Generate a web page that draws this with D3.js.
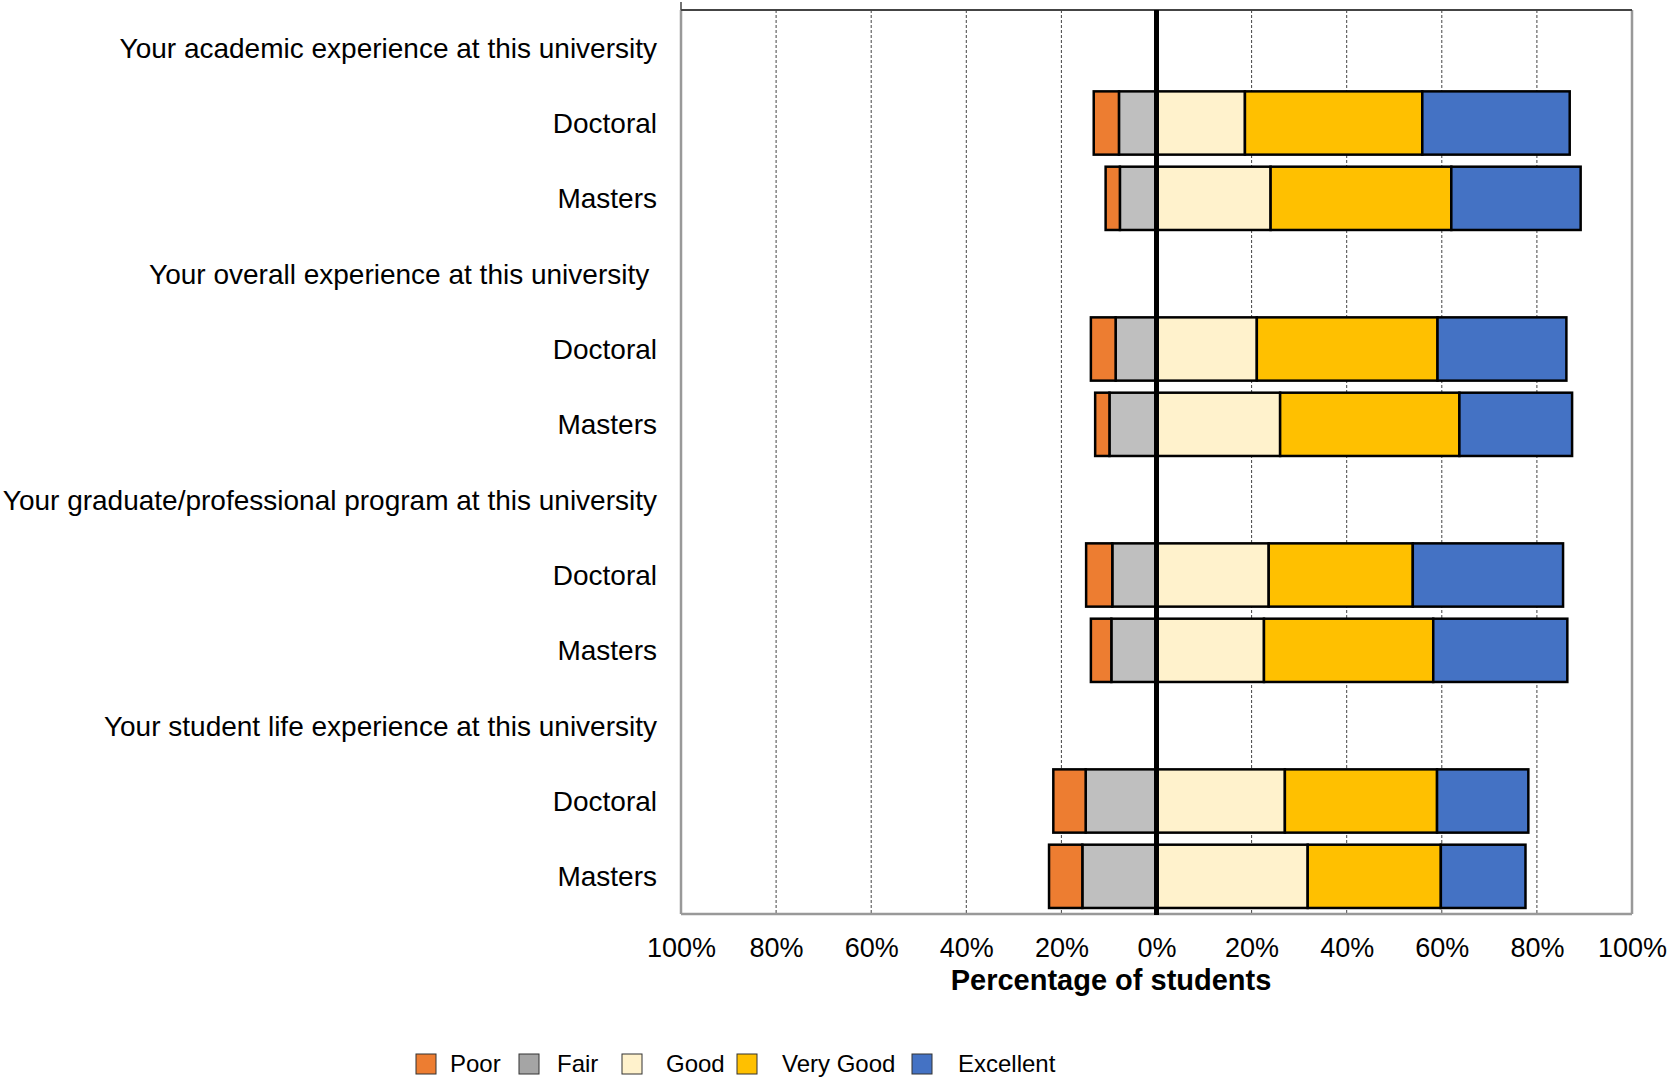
<!DOCTYPE html>
<html>
<head>
<meta charset="utf-8">
<script src="https://cdn.jsdelivr.net/npm/d3@7"></script>
<style>
  html, body { margin: 0; padding: 0; background: #fff; }
  svg { display: block; font-family: "Liberation Sans", Arial, sans-serif; }
</style>
</head>
<body>
<svg id="chart" width="1671" height="1077"></svg>
<script>
// Row labels, top to bottom (section headers carry no bars)
const rowLabels = [
  "Your academic experience at this university", "Doctoral", "Masters",
  "Your overall experience at this university ", "Doctoral", "Masters",
  "Your graduate/professional program at this university", "Doctoral", "Masters",
  "Your student life experience at this university", "Doctoral", "Masters"
];

// Percentage of students per rating, one value per row (null = header row)
const poor      = [null, 5.3, 3.0, null, 5.2, 3.0, null, 5.5, 4.3, null, 6.8, 7.0];
const fair      = [null, 7.9, 7.7, null, 8.6, 9.9, null, 9.3, 9.5, null, 14.9, 15.6];
const good      = [null, 18.6, 24.0, null, 21.1, 26.0, null, 23.6, 22.6, null, 27.0, 31.8];
const veryGood  = [null, 37.3, 38.0, null, 38.0, 37.7, null, 30.3, 35.6, null, 32.0, 28.0];
const excellent = [null, 31.0, 27.2, null, 27.1, 23.7, null, 31.6, 28.2, null, 19.2, 17.8];

const ratingNames = ["Poor", "Fair", "Good", "Very Good", "Excellent"];
const tickValues = [-100, -80, -60, -40, -20, 0, 20, 40, 60, 80, 100];

const colors = {
  "Poor": "#ED7D31", "Fair": "#BFBFBF", "Good": "#FFF2CC",
  "Very Good": "#FFC000", "Excellent": "#4472C4"
};
const legendColors = {
  "Poor": "#ED7D31", "Fair": "#A5A5A5", "Good": "#FFF2CC",
  "Very Good": "#FFC000", "Excellent": "#4472C4"
};

const svg = d3.select("#chart");
const plotLeft = 681, plotRight = 1632, plotTop = 10, plotBottom = 914;

const x = d3.scaleLinear().domain([-100, 100]).range([plotLeft, plotRight]);
const y = d3.scaleBand().domain(d3.range(rowLabels.length)).range([plotTop, plotBottom])
  .paddingInner(0.16).paddingOuter(0.08);

// Diverging segments: negatives stack leftwards from zero, positives rightwards
const segments = [];
rowLabels.forEach((label, i) => {
  if (poor[i] == null) return;
  const f = fair[i], p = poor[i];
  segments.push({ row: i, key: "Fair", x0: -f, x1: 0 });
  segments.push({ row: i, key: "Poor", x0: -f - p, x1: -f });
  let acc = 0;
  [["Good", good[i]], ["Very Good", veryGood[i]], ["Excellent", excellent[i]]].forEach(([k, v]) => {
    segments.push({ row: i, key: k, x0: acc, x1: acc + v });
    acc += v;
  });
});

// Grid lines
svg.append("g")
  .selectAll("line")
  .data(tickValues.filter(d => Math.abs(d) !== 100 && d !== 0))
  .join("line")
  .attr("x1", d => x(d)).attr("x2", d => x(d))
  .attr("y1", plotTop).attr("y2", plotBottom)
  .attr("stroke", "#444").attr("stroke-width", 1)
  .attr("stroke-dasharray", "3,2");

// Plot frame
svg.append("line").attr("x1", plotLeft).attr("x2", plotLeft).attr("y1", plotTop).attr("y2", plotBottom)
  .attr("stroke", "#999").attr("stroke-width", 2.5);
svg.append("line").attr("x1", plotRight).attr("x2", plotRight).attr("y1", plotTop).attr("y2", plotBottom)
  .attr("stroke", "#999").attr("stroke-width", 2.5);
svg.append("line").attr("x1", plotLeft).attr("x2", plotRight).attr("y1", plotBottom).attr("y2", plotBottom)
  .attr("stroke", "#999").attr("stroke-width", 2.5);
svg.append("line").attr("x1", plotLeft).attr("x2", plotRight).attr("y1", plotTop).attr("y2", plotTop)
  .attr("stroke", "#444").attr("stroke-width", 2);
svg.append("line").attr("x1", plotLeft).attr("x2", plotLeft).attr("y1", 2).attr("y2", plotTop)
  .attr("stroke", "#444").attr("stroke-width", 1.5);

// Bars
svg.append("g")
  .selectAll("rect")
  .data(segments)
  .join("rect")
  .attr("x", d => x(d.x0))
  .attr("width", d => x(d.x1) - x(d.x0))
  .attr("y", d => y(d.row))
  .attr("height", y.bandwidth())
  .attr("fill", d => colors[d.key])
  .attr("stroke", "#000")
  .attr("stroke-width", 2.5);

// Zero line
svg.append("line").attr("x1", x(0)).attr("x2", x(0)).attr("y1", plotTop).attr("y2", plotBottom + 1)
  .attr("stroke", "#000").attr("stroke-width", 5);

// Category axis
const yAxis = svg.append("g")
  .attr("transform", `translate(${plotLeft},0)`)
  .call(d3.axisLeft(y).tickSize(0).tickPadding(24).tickFormat(i => rowLabels[i]));
yAxis.select(".domain").remove();
yAxis.selectAll("text")
  .attr("font-size", 28).attr("fill", "#000")
  .attr("dy", "0.36em")
  .style("font-family", "\"Liberation Sans\", Arial, sans-serif")
  .style("white-space", "pre");

// Value axis
const xAxis = svg.append("g")
  .attr("transform", `translate(0,${plotBottom})`)
  .call(d3.axisBottom(x).tickValues(tickValues).tickSize(0).tickPadding(24)
    .tickFormat(d => Math.abs(d) + "%"));
xAxis.select(".domain").remove();
xAxis.selectAll("text")
  .attr("font-size", 27).attr("fill", "#000")
  .style("font-family", "\"Liberation Sans\", Arial, sans-serif");

svg.append("text")
  .attr("x", 1111).attr("y", 990)
  .attr("text-anchor", "middle")
  .attr("font-size", 29).attr("font-weight", "bold")
  .text("Percentage of students");

// Legend
const legendSwatchX = [416, 519, 622, 737, 912];
const legendTextX = [450, 557, 666, 782, 958];
const legend = svg.append("g");
ratingNames.forEach((name, i) => {
  legend.append("rect")
    .attr("x", legendSwatchX[i]).attr("y", 1054)
    .attr("width", 20).attr("height", 20)
    .attr("fill", legendColors[name])
    .attr("stroke", "#333").attr("stroke-width", 1);
  legend.append("text")
    .attr("x", legendTextX[i]).attr("y", 1072)
    .attr("font-size", 24)
    .text(name);
});
</script>
</body>
</html>
